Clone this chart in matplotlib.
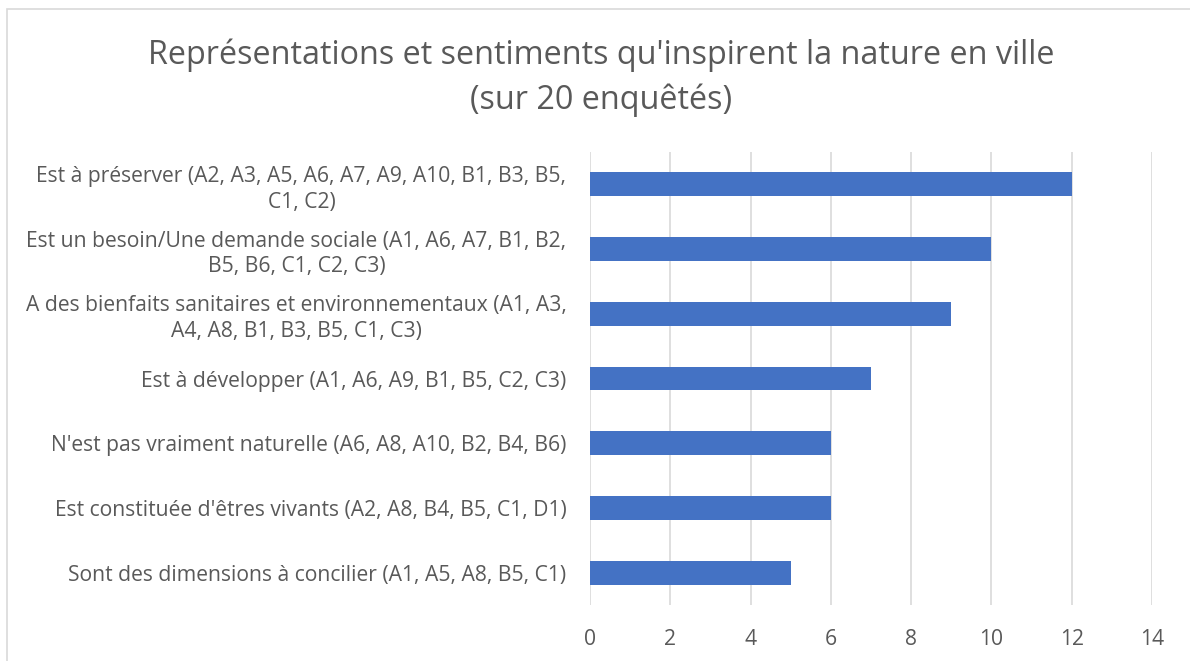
import matplotlib.pyplot as plt
from matplotlib.patches import Rectangle

# Données
categories = [
    "Est à préserver (A2, A3, A5, A6, A7, A9, A10, B1, B3, B5,\nC1, C2)",
    "Est un besoin/Une demande sociale (A1, A6, A7, B1, B2,\nB5, B6, C1, C2, C3)",
    "A des bienfaits sanitaires et environnementaux (A1, A3,\nA4, A8, B1, B3, B5, C1, C3)",
    "Est à développer (A1, A6, A9, B1, B5, C2, C3)",
    "N'est pas vraiment naturelle (A6, A8, A10, B2, B4, B6)",
    "Est constituée d'êtres vivants (A2, A8, B4, B5, C1, D1)",
    "Sont des dimensions à concilier (A1, A5, A8, B5, C1)",
]
valeurs = [12, 10, 9, 7, 6, 6, 5]
x_ticks = [0, 2, 4, 6, 8, 10, 12, 14]

plt.rcParams['font.family'] = ['Open Sans', 'DejaVu Sans']
gris = '#595959'

fig = plt.figure(figsize=(11.9, 6.61), dpi=100)
ax = fig.add_axes([0.4958, 0.0847, 0.4723, 0.6853])

pos = list(range(len(categories)))[::-1]
ax.barh(pos, valeurs, height=0.37, color='#4472C4', zorder=3)

ax.set_xlim(0, 14)
ax.set_ylim(-0.5, len(categories) - 0.5)
ax.set_xticks(x_ticks)
ax.set_xticklabels([str(t) for t in x_ticks])
ax.set_yticks(pos)
ax.set_yticklabels(categories, multialignment='center', linespacing=1.3)
ax.tick_params(axis='both', length=0, colors=gris, labelsize=15.2)
ax.tick_params(axis='x', pad=17)
ax.tick_params(axis='y', pad=17)
ax.grid(axis='x', color='#D9D9D9', linewidth=1.2, zorder=0)
for s in ax.spines.values():
    s.set_visible(False)

fig.text(0.505, 0.917, "Représentations et sentiments qu'inspirent la nature en ville",
         ha='center', va='center', fontsize=23.3, color=gris)
fig.text(0.505, 0.849, "(sur 20 enquêtés)",
         ha='center', va='center', fontsize=23.3, color=gris)

# cadre du graphique
fig.patches.append(Rectangle((7 / 1190, -0.05), 1.2, 1 - 9 / 661 + 0.05,
                             transform=fig.transFigure, fill=False,
                             edgecolor='#D9D9D9', linewidth=1.2))

plt.savefig('out.png', dpi=100)
